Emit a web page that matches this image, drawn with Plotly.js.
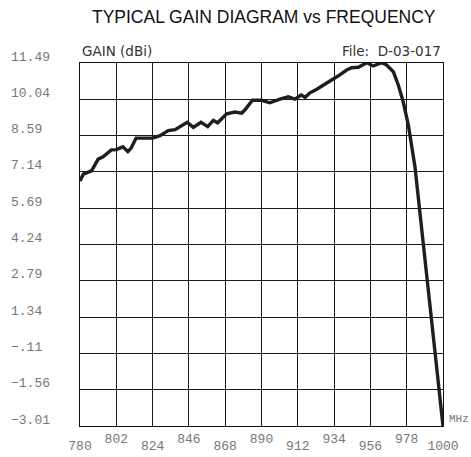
<!DOCTYPE html>
<html>
<head>
<meta charset="utf-8">
<script src="https://cdn.plot.ly/plotly-3.0.1.min.js"></script>
<style>html,body{margin:0;padding:0;background:#fff;}#chart{width:471px;height:457px;}</style>
</head>
<body>
<div id="chart"></div>
<script>
// Frequency (MHz) and gain (dBi)
const freq = [780, 782, 787, 791, 794, 799, 802, 806, 809, 811, 814, 824, 828.5, 833.5, 837.6, 841.6, 845, 848.7, 853.3, 857.4, 860.8, 863.4, 865.9, 868.9, 873.9, 878, 880, 884.5, 890.1, 895, 901.2, 906.2, 910.3, 914, 916.4, 919.4, 923.5, 928.5, 931.5, 936.6, 941.6, 944.7, 948.7, 953.8, 957.7, 962.8, 965.8, 969.9, 972.9, 975.9, 979, 981, 983, 1000];
const gain = [6.78, 7.05, 7.18, 7.65, 7.74, 8.02, 8.03, 8.14, 7.95, 8.09, 8.49, 8.49, 8.59, 8.79, 8.83, 8.99, 9.12, 8.92, 9.12, 8.95, 9.2, 9.1, 9.26, 9.46, 9.53, 9.49, 9.62, 10.0, 10.0, 9.9, 10.05, 10.14, 10.05, 10.21, 10.12, 10.3, 10.44, 10.65, 10.74, 10.98, 11.21, 11.3, 11.32, 11.5, 11.37, 11.5, 11.41, 11.14, 10.61, 9.94, 9.01, 8.21, 7.35, -3.01];

// Axis ticks
const xTicks = [780, 802, 824, 846, 868, 890, 912, 934, 956, 978, 1000];
const xTopRowLabels = ["", "802", "", "846", "", "890", "", "934", "", "978", ""];
const xBottomTicks = [780, 824, 868, 912, 956, 1000];
const xBottomLabels = ["780", "824", "868", "912", "956", "1000"];
const yTicks = [11.49, 10.04, 8.59, 7.14, 5.69, 4.24, 2.79, 1.34, -0.11, -1.56, -3.01];
const yLabels = ["11.49", "10.04", "8.59", "7.14", "5.69", "4.24", "2.79", "1.34", "\u2212.11", "\u22121.56", "\u22123.01"];

// pad labels on the right so they look left-aligned (monospace font)
const maxLen = Math.max(...yLabels.map(s => s.length));
const yLabelsPadded = yLabels.map(s => s + "\u00A0".repeat(maxLen - s.length));

const tickFont = {family: "Liberation Mono", size: 13, color: "#777"};

const traces = [
  {x: freq, y: gain, type: "scatter", mode: "lines",
   line: {color: "#1e1e1e", width: 3.4}, hoverinfo: "skip", showlegend: false, cliponaxis: false},
  {x: [], y: [], xaxis: "x2", type: "scatter", mode: "lines", showlegend: false}
];

const layout = {
  width: 471, height: 457,
  margin: {l: 80, r: 28, t: 63, b: 31},
  paper_bgcolor: "#fff", plot_bgcolor: "#fff",
  showlegend: false,
  title: {text: "TYPICAL GAIN DIAGRAM vs FREQUENCY",
          font: {family: "Liberation Sans", size: 17.5, color: "#111"},
          x: 0.560, xanchor: "center", y: 0.962, yanchor: "middle"},
  xaxis: {range: [780, 1000], tickmode: "array", tickvals: xTicks, ticktext: xTopRowLabels,
          showgrid: true, gridcolor: "#1a1a1a", gridwidth: 1,
          showline: true, linecolor: "#111", linewidth: 1.4, mirror: true,
          zeroline: false, ticks: "", tickfont: tickFont, ticklabelstandoff: 0, fixedrange: true},
  xaxis2: {range: [780, 1000], overlaying: "x", side: "bottom", anchor: "y",
           tickmode: "array", tickvals: xBottomTicks, ticktext: xBottomLabels,
           showgrid: false, showline: false, zeroline: false, ticks: "",
           tickfont: tickFont, ticklabelstandoff: 10, fixedrange: true},
  yaxis: {range: [-3.01, 11.49], tickmode: "array", tickvals: yTicks, ticktext: yLabelsPadded,
          showgrid: true, gridcolor: "#1a1a1a", gridwidth: 1,
          showline: true, linecolor: "#111", linewidth: 1.4, mirror: true,
          zeroline: false, ticks: "", tickfont: tickFont,
          ticklabelstandoff: 26, ticklabelshift: -7, fixedrange: true},
  annotations: [
    {text: "GAIN (dBi)", xref: "paper", yref: "paper", x: 0, y: 1, xanchor: "left", yanchor: "bottom",
     yshift: 2, showarrow: false, font: {family: "DejaVu Sans", size: 13.5, color: "#333"}},
    {text: "File:  D-03-017", xref: "paper", yref: "paper", x: 1, y: 1, xanchor: "right", yanchor: "bottom",
     yshift: 2, showarrow: false, font: {family: "DejaVu Sans", size: 13.5, color: "#333"}},
    {text: "MHz", xref: "paper", yref: "paper", x: 1, y: 0, xanchor: "left", yanchor: "middle",
     xshift: 4, yshift: 7, showarrow: false, font: {family: "Liberation Mono", size: 11, color: "#777"}}
  ]
};

Plotly.newPlot("chart", traces, layout, {staticPlot: true, displayModeBar: false});
</script>
</body>
</html>
